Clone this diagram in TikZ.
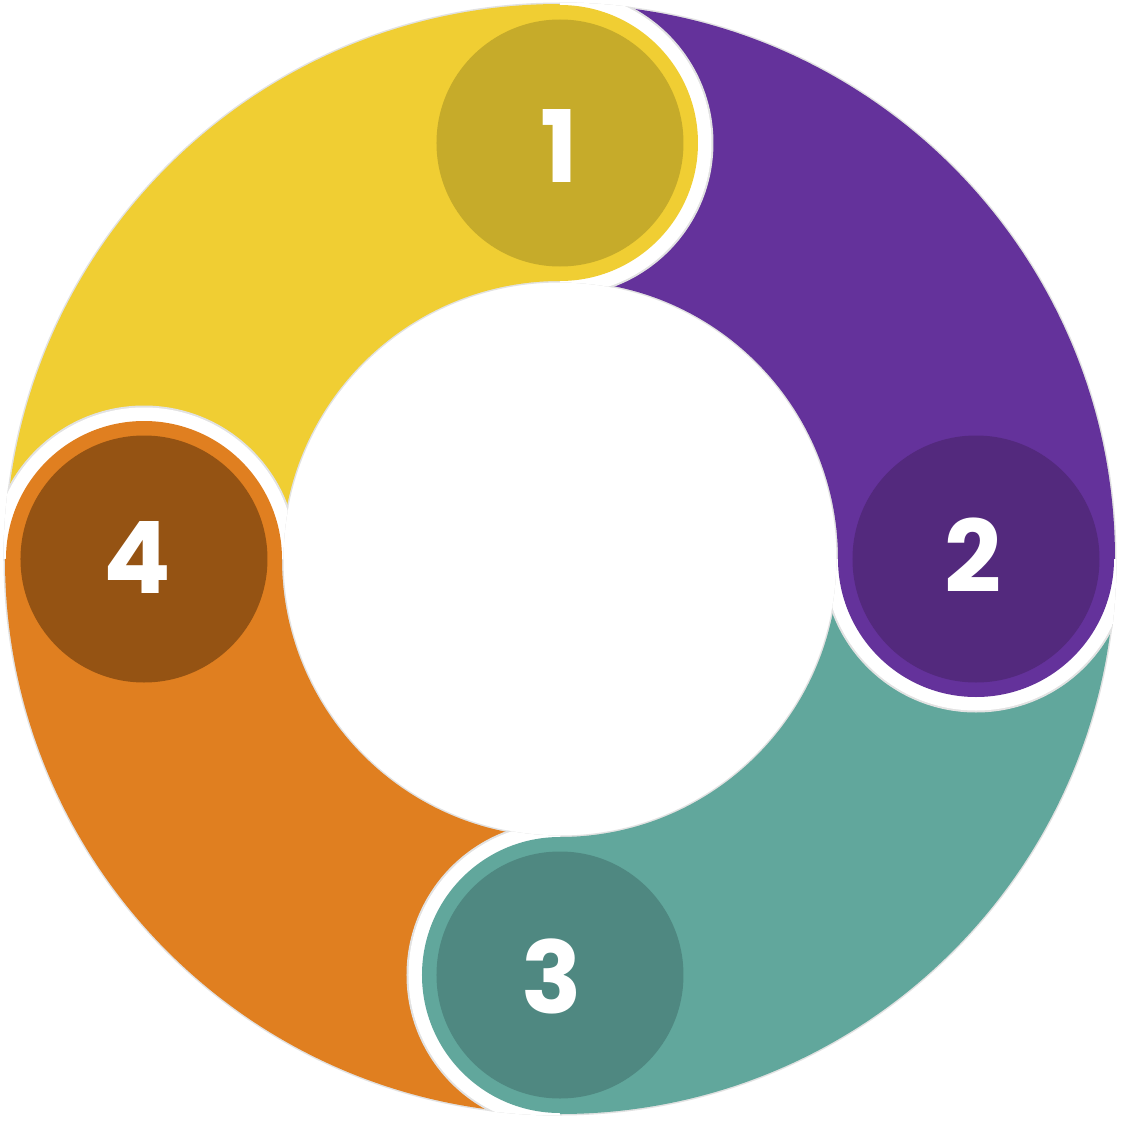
\documentclass[tikz,border=0pt]{standalone}
\usepackage{fontspec}
\setmainfont{Poppins}
\definecolor{cYel}{HTML}{F0CE33}
\definecolor{cYelD}{HTML}{C6AB2A}
\definecolor{cPur}{HTML}{64329B}
\definecolor{cPurD}{HTML}{53297D}
\definecolor{cTea}{HTML}{61A79C}
\definecolor{cTeaD}{HTML}{4F8881}
\definecolor{cOra}{HTML}{E07F20}
\definecolor{cOraD}{HTML}{955313}
\definecolor{cShad}{HTML}{E2E2E2}
\tikzset{
  numtext/.style={text=white, font=\fontsize{50}{50}\selectfont\bfseries, inner sep=0pt},
}
\newcommand{\sector}[4]{% start angle, end angle, color, gap center angle
  \begin{scope}
    \clip (0,0) -- (#1:620) arc (#1:#2:620) -- cycle;
    \fill[cShad, even odd rule] (0,0) circle (556.5) (0,0) circle (276.5);
    \fill[#3, even odd rule] (0,0) circle (555) (0,0) circle (278);
    \begin{scope}[even odd rule]
      \clip (0,0) circle (556.5) (0,0) circle (276.5);
      \fill[cShad] (#4:416) circle (153.5);
      \fill[white] (#4:416) circle (151.5);
    \end{scope}
  \end{scope}}
\begin{document}
\begin{tikzpicture}[x=0.5pt,y=0.5pt]
\useasboundingbox (-560,-567) rectangle (566,559);
\sector{180}{90}{cYel}{180}
\sector{90}{0}{cPur}{90}
\sector{0}{-90}{cTea}{0}
\sector{-90}{-180}{cOra}{-90}
% caps
\coordinate (c1) at (90:416);
\coordinate (c2) at (0:416);
\coordinate (c3) at (-90:416);
\coordinate (c4) at (180:416);
\fill[cYel] (c1) circle (138);
\fill[cPur] (c2) circle (138);
\fill[cTea] (c3) circle (138);
\fill[cOra] (c4) circle (138);
\fill[cYelD] (c1) circle (123.5);
\fill[cPurD] (c2) circle (123.5);
\fill[cTeaD] (c3) circle (123.5);
\fill[cOraD] (c4) circle (123.5);
\node[numtext] (n1) at ([shift={(-1,-3)}]c1) {1};
\node[numtext] (n2) at ([shift={(-3,4)}]c2) {2};
\node[numtext] (n3) at ([shift={(-8,-1)}]c3) {3};
\node[numtext] (n4) at ([shift={(-7,2)}]c4) {4};
\end{tikzpicture}
\end{document}
